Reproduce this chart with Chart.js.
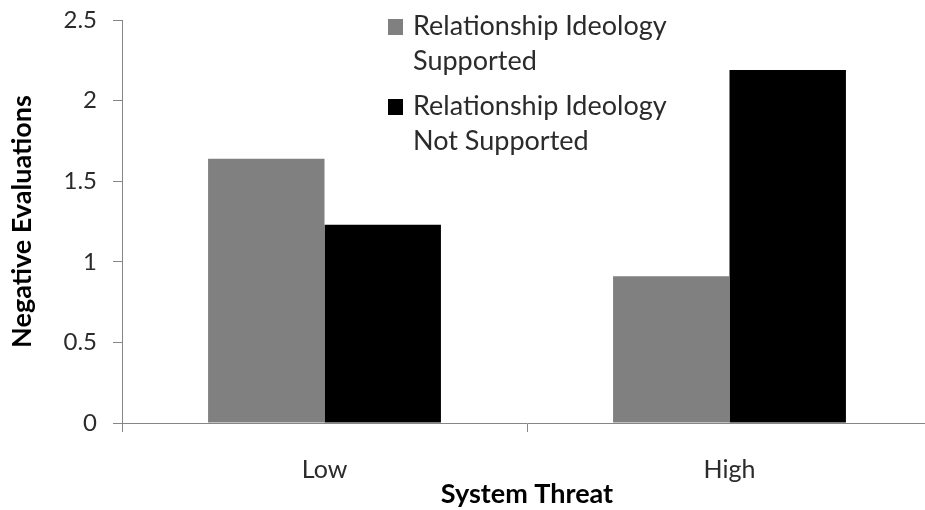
<!DOCTYPE html>
<html>
<head>
<meta charset="utf-8">
<script src="https://cdn.jsdelivr.net/npm/chart.js@4"></script>
<style>
  html, body { margin: 0; padding: 0; background: #fff; overflow: hidden; width: 925px; height: 510px; }
  canvas { display: block; }
</style>
</head>
<body>
<canvas id="c" width="935" height="510"></canvas>
<script>
const categories = ['Low', 'High'];
const seriesNames = ['Relationship Ideology Supported', 'Relationship Ideology Not Supported'];
const legendLines = [['Relationship Ideology', 'Supported'], ['Relationship Ideology', 'Not Supported']];
const supported = [1.64, 0.91];
const notSupported = [1.23, 2.19];
const yTickValues = [0, 0.5, 1, 1.5, 2, 2.5];
const yTickLabels = ['0', '0.5', '1', '1.5', '2', '2.5'];
const xTitle = 'System Threat';
const yTitle = 'Negative Evaluations';

const FONT = 'Lato';
const AXIS = '#868686';
const TEXT = '#2b2b2b';

const legendPlugin = {
  id: 'customLegend',
  afterDraw(chart) {
    const ctx = chart.ctx;
    ctx.save();
    ctx.font = '27px ' + FONT;
    ctx.textBaseline = 'alphabetic';
    ctx.textAlign = 'left';
    const baseY = [35, 115];
    chart.data.datasets.forEach((ds, i) => {
      const y0 = baseY[i];
      ctx.fillStyle = ds.backgroundColor;
      ctx.fillRect(388, y0 - 16, 15, 16);
      ctx.fillStyle = TEXT;
      legendLines[i].forEach((line, j) => {
        ctx.fillText(line, 413, y0 + j * 35);
      });
    });
    ctx.restore();
  }
};

new Chart(document.getElementById('c'), {
  type: 'bar',
  data: {
    labels: categories,
    datasets: [
      { label: seriesNames[0], data: supported, backgroundColor: '#808080', borderWidth: 0 },
      { label: seriesNames[1], data: notSupported, backgroundColor: '#000000', borderWidth: 0 }
    ]
  },
  options: {
    responsive: false,
    animation: false,
    events: [],
    layout: { padding: { top: 20, right: 3, bottom: 0, left: 0 } },
    datasets: { bar: { categoryPercentage: 0.575, barPercentage: 1.0 } },
    plugins: { legend: { display: false }, tooltip: { enabled: false } },
    scales: {
      x: {
        grid: { display: true, drawOnChartArea: false, drawTicks: true, tickLength: 9, color: AXIS, offset: true },
        border: { display: true, color: AXIS, width: 1 },
        ticks: { font: { family: FONT, size: 25 }, color: TEXT, padding: 23, maxRotation: 0 },
        title: { display: true, text: xTitle, font: { family: FONT, size: 27, weight: 'bold' }, color: '#000', padding: { top: 0, bottom: 0 } },
        afterFit(scale) { scale.height = 87; scale.paddingLeft = 0; scale.paddingRight = 0; }
      },
      y: {
        min: 0, max: 2.5,
        afterBuildTicks(scale) { scale.ticks = yTickValues.map(v => ({ value: v })); },
        grid: { display: true, drawOnChartArea: false, drawTicks: true, tickLength: 9, color: AXIS },
        border: { display: true, color: AXIS, width: 1 },
        ticks: {
          font: { family: FONT, size: 24 }, color: TEXT, padding: 16,
          callback(v, i) { return yTickLabels[i]; }
        },
        title: { display: true, text: yTitle, font: { family: FONT, size: 27, weight: 'bold' }, color: '#000', padding: { top: 6, bottom: 0 } },
        afterFit(scale) { scale.width = 122; scale.paddingTop = 0; scale.paddingBottom = 0; }
      }
    }
  },
  plugins: [legendPlugin]
});
</script>
</body>
</html>
